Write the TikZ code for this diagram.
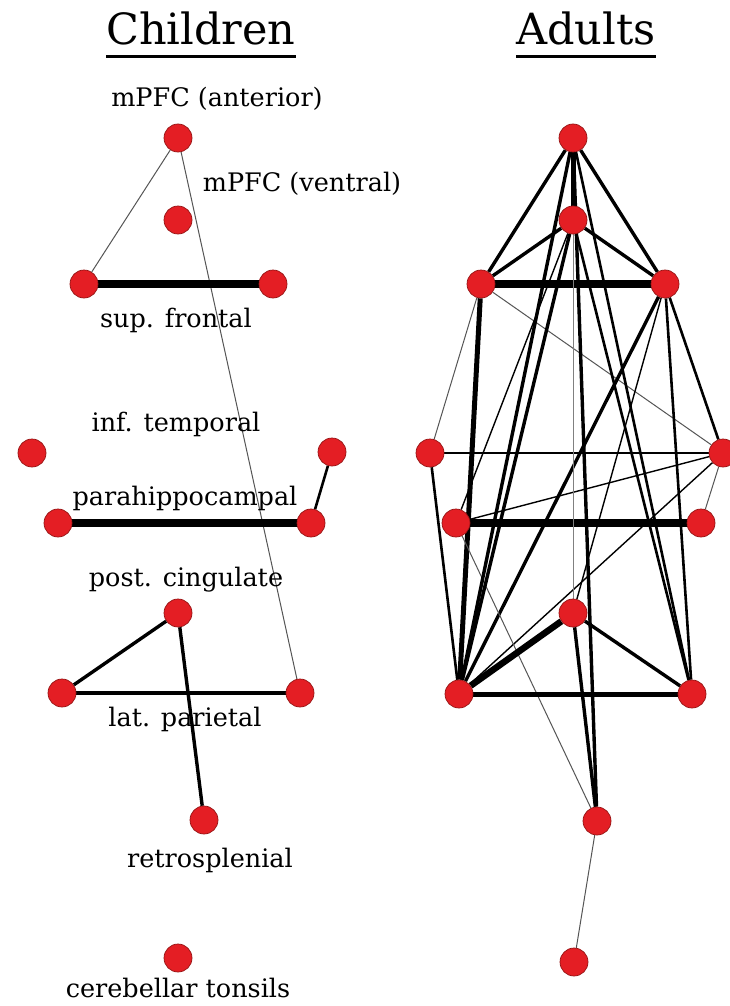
\documentclass[tikz,border=0pt]{standalone}
\usepackage{fontspec}
\setmainfont{DejaVu Serif}
\usetikzlibrary{backgrounds}
\definecolor{nodered}{RGB}{228,30,36}
\definecolor{nodeedge}{RGB}{150,20,20}
\definecolor{faint}{RGB}{85,85,85}
\begin{document}
\begin{tikzpicture}[x=1pt,y=-1pt,
  roi/.style={circle,fill=nodered,draw=nodeedge,line width=0.7pt,minimum size=28pt,inner sep=0pt},
  lbl/.style={font=\fontsize{25.5}{30}\selectfont,anchor=base,inner sep=0pt},
  ttl/.style={font=\fontsize{43}{50}\selectfont,anchor=base,inner sep=0pt},
  hair/.style={draw=faint,line width=1pt},
  thinE/.style={draw=black,line width=1.4pt},
  midE/.style={draw=black,line width=2.6pt},
  medE/.style={draw=black,line width=3.4pt},
  bigE/.style={draw=black,line width=5pt},
  hugeE/.style={draw=black,line width=8.5pt}]
\useasboundingbox (0,0) rectangle (729,1006);

% titles
\node[ttl] (chT) at (201,45) {Children};
\node[ttl] (adT) at (586,45) {Adults};
\draw[line width=3pt] ([yshift=-12pt]chT.base west) -- ([yshift=-12pt]chT.base east);
\draw[line width=3pt] ([yshift=-12pt]adT.base west) -- ([yshift=-12pt]adT.base east);

% labels
\node[lbl] (l1) at (217,107) {mPFC (anterior)};
\node[lbl] (l2) at (302,191) {mPFC (ventral)};
\node[lbl] (l3) at (176,327) {sup. frontal};
\node[lbl] (l4) at (176,431) {inf. temporal};
\node[lbl] (l5) at (185,505) {parahippocampal};
\node[lbl] (l6) at (186,586) {post. cingulate};
\node[lbl] (l7) at (185,726) {lat. parietal};
\node[lbl] (l8) at (210,867) {retrosplenial};
\node[lbl] (l9) at (178,997) {cerebellar tonsils};

% children nodes
\node[roi] (cA)  at (178,138) {};
\node[roi] (cV)  at (178,220) {};
\node[roi] (cSL) at (84,284) {};
\node[roi] (cSR) at (273,284) {};
\node[roi] (cIL) at (32,453) {};
\node[roi] (cIR) at (332,452) {};
\node[roi] (cPL) at (58,523) {};
\node[roi] (cPR) at (311,523) {};
\node[roi] (cPC) at (178,613) {};
\node[roi] (cLL) at (62,693) {};
\node[roi] (cLR) at (300,693) {};
\node[roi] (cRS) at (204,820) {};
\node[roi] (cCB) at (178,958) {};

% adult nodes
\node[roi] (aA)  at (573,138) {};
\node[roi] (aV)  at (573,220) {};
\node[roi] (aSL) at (481,284) {};
\node[roi] (aSR) at (665,284) {};
\node[roi] (aIL) at (430,453) {};
\node[roi] (aIR) at (723,453) {};
\node[roi] (aPL) at (456,523) {};
\node[roi] (aPR) at (701,523) {};
\node[roi] (aPC) at (573,613) {};
\node[roi] (aLL) at (459,694) {};
\node[roi] (aLR) at (692,694) {};
\node[roi] (aRS) at (597,821) {};
\node[roi] (aCB) at (574,962) {};

\begin{scope}[on background layer]
\fill[white] (0,0) rectangle (729,1006);
% children edges
\draw[hair] (cA) -- (cSL);
\draw[hair] (cA) -- (cLR);
\draw[hugeE] (cSL) -- (cSR);
\draw[midE] (cIR) -- (cPR);
\draw[hugeE] (cPL) -- (cPR);
\draw[medE] (cPC) -- (cLL);
\draw[medE] (cLL) -- (cLR);
\draw[medE] (cPC) -- (cRS);

% adult edges
\draw[bigE] (aA) -- (aV);
\draw[medE] (aA) -- (aSL);
\draw[medE] (aA) -- (aSR);
\draw[medE] (aV) -- (aSL);
\draw[medE] (aV) -- (aSR);
\draw[hugeE] (aSL) -- (aSR);
\draw[bigE] (aSL) -- (aLL);
\draw[hair] (aSL) -- (aIL);
\draw[hair] (aSL) -- (aIR);
\draw[midE] (aSR) -- (aIR);
\draw[medE] (aSR) -- (aLL);
\draw[midE] (aSR) -- (aLR);
\draw[thinE] (aSR) -- (aPC);
\draw[midE] (aIL) -- (aIR);
\draw[midE] (aIL) -- (aLL);
\draw[thinE] (aIR) -- (aPL);
\draw[hair] (aIR) -- (aPR);
\draw[thinE] (aIR) -- (aLL);
\draw[hugeE] (aPL) -- (aPR);
\draw[thinE] (aV) -- (aPL);
\draw[hair] (aPL) -- (aRS);
\draw[medE] (aA) -- (aLL);
\draw[medE] (aV) -- (aLL);
\draw[midE] (aA) -- (aLR);
\draw[midE] (aV) -- (aLR);
\draw[hair,draw=gray] (aV) -- (aPC);
\draw[medE] (aA) -- (aRS);
\draw[medE] (aPC) -- (aRS);
\draw[line width=6.5pt] (aPC) -- (aLL);
\draw[medE] (aPC) -- (aLR);
\draw[bigE] (aLL) -- (aLR);
\draw[hair] (aRS) -- (aCB);
\end{scope}
\end{tikzpicture}
\end{document}
